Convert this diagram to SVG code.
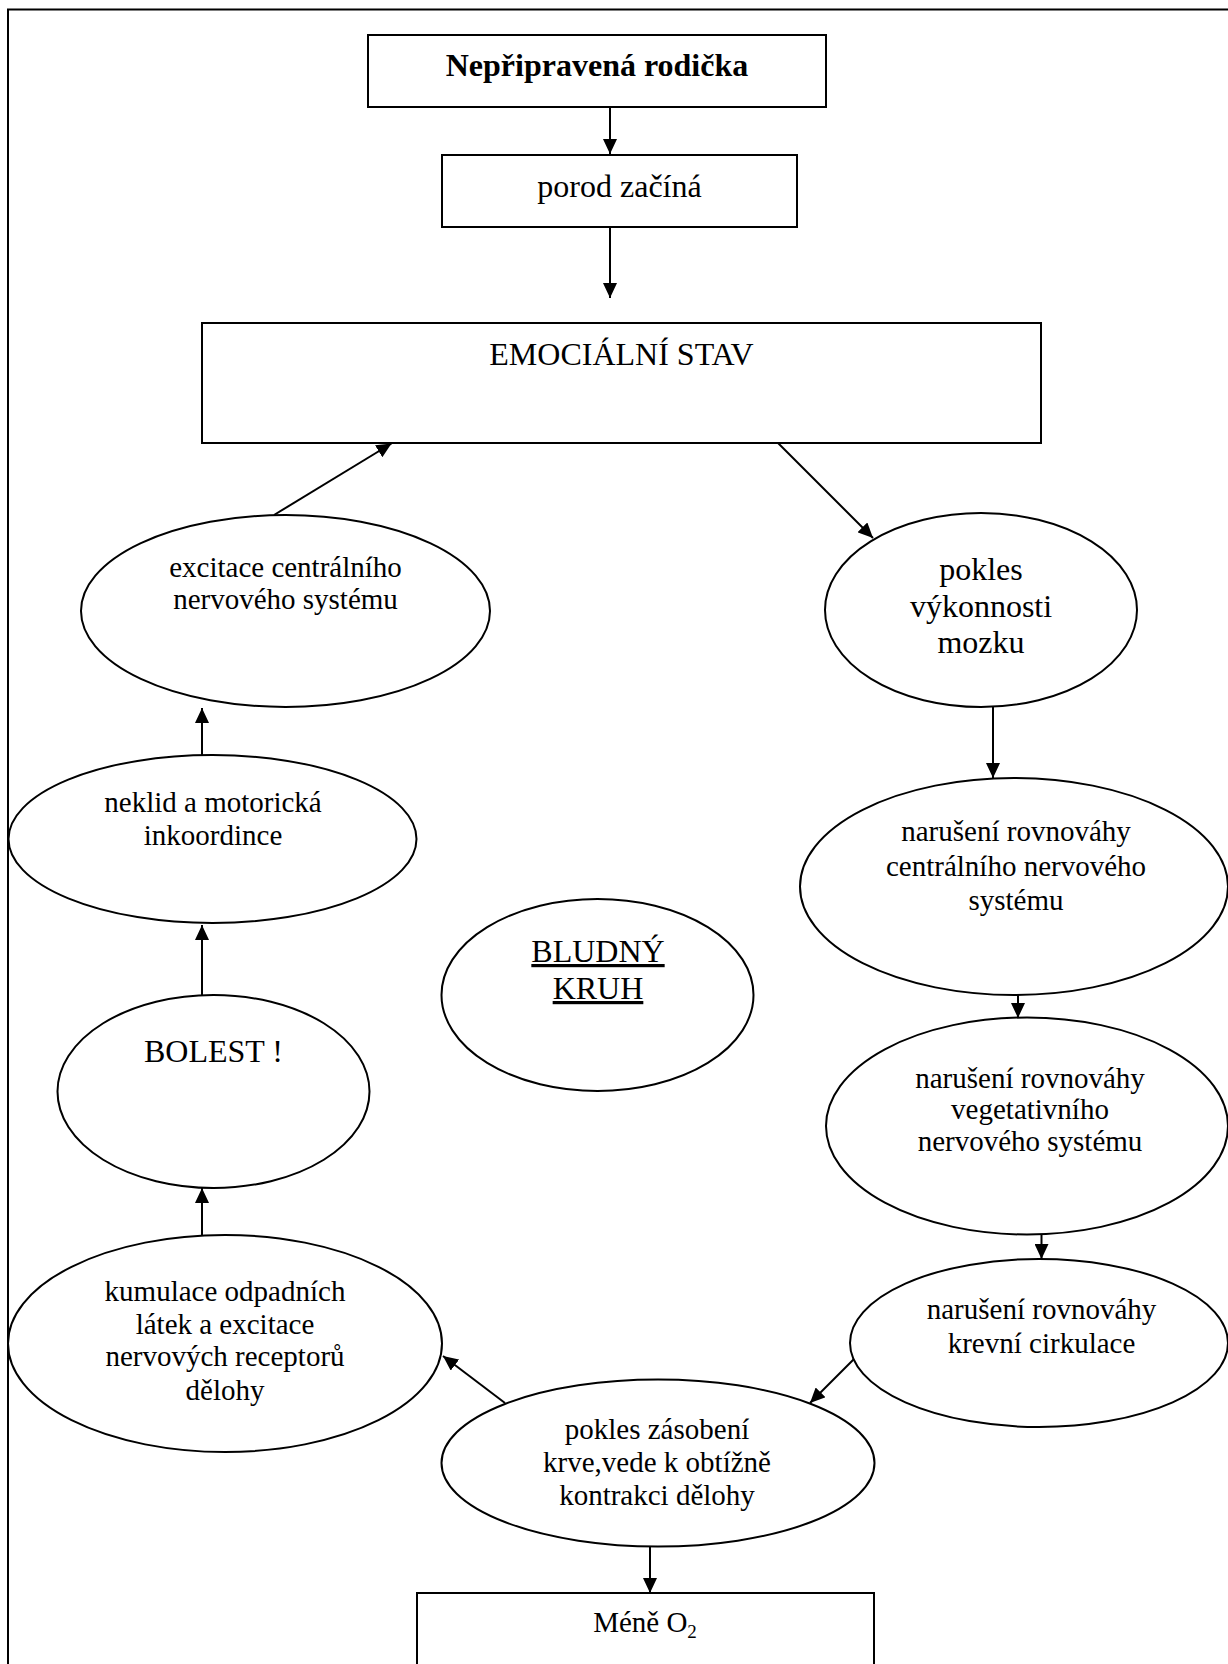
<svg xmlns="http://www.w3.org/2000/svg" width="1228" height="1664" viewBox="0 0 1228 1664">
<style>
.n{fill:#fff;stroke:#000;stroke-width:2}
.t{font-family:"Liberation Serif","Times New Roman",serif;font-size:29px;fill:#000;text-anchor:middle}
.L{font-size:32px}
.b{font-weight:bold}
.c{stroke:#000;stroke-width:2;fill:none;marker-end:url(#ah)}
</style>
<defs>
<marker id="ah" markerWidth="16" markerHeight="14" refX="15" refY="7" orient="auto" markerUnits="userSpaceOnUse"><path d="M0,0 L15,7 L0,14 z" fill="#000"/></marker>
</defs>
<rect x="0" y="0" width="1228" height="1664" fill="#fff"/>
<rect x="8" y="9.5" width="1260" height="1700" fill="none" stroke="#000" stroke-width="2"/>
<g id="connectors">
<line class="c" x1="610" y1="107" x2="610" y2="154"/>
<line class="c" x1="610" y1="227" x2="610" y2="298"/>
<line class="c" x1="778" y1="443" x2="873" y2="538"/>
<line class="c" x1="274" y1="515" x2="391.5" y2="443.5"/>
<line class="c" x1="993" y1="707" x2="993" y2="778"/>
<line class="c" x1="202" y1="755" x2="202" y2="708"/>
<line class="c" x1="202" y1="995" x2="202" y2="925"/>
<line class="c" x1="202" y1="1235" x2="202" y2="1188"/>
<line class="c" x1="1018" y1="995" x2="1018" y2="1018"/>
<line class="c" x1="1041.5" y1="1235" x2="1041.5" y2="1259"/>
<line class="c" x1="858" y1="1355" x2="810" y2="1403"/>
<line class="c" x1="505" y1="1403" x2="443" y2="1356"/>
<line class="c" x1="650" y1="1547" x2="650" y2="1593"/>
</g>
<g id="n1"><rect class="n" x="368" y="35" width="458" height="72"/><text class="t L b" x="597" y="76">Nepřipravená rodička</text></g>
<g id="n2"><rect class="n" x="442" y="155" width="355" height="72"/><text class="t L" x="619.5" y="197">porod začíná</text></g>
<g id="n3"><rect class="n" x="202" y="323" width="839" height="120"/><text class="t L" x="621.5" y="365">EMOCIÁLNÍ STAV</text></g>
<g id="n4"><ellipse class="n" cx="285.5" cy="611" rx="204.5" ry="96"/><text class="t" x="285.5" y="577">excitace centrálního</text><text class="t" x="285.5" y="609">nervového systému</text></g>
<g id="n5"><ellipse class="n" cx="981" cy="610" rx="156" ry="97"/><text class="t L" x="981" y="580">pokles</text><text class="t L" x="981" y="617">výkonnosti</text><text class="t L" x="981" y="653">mozku</text></g>
<g id="n6"><ellipse class="n" cx="212.5" cy="839" rx="204" ry="84"/><text class="t" x="213" y="812">neklid a motorická</text><text class="t" x="213" y="845">inkoordince</text></g>
<g id="n7"><ellipse class="n" cx="1014" cy="886.5" rx="214" ry="108.5"/><text class="t" x="1016" y="841">narušení rovnováhy</text><text class="t" x="1016" y="876">centrálního nervového</text><text class="t" x="1016" y="910">systému</text></g>
<g id="n8"><ellipse class="n" cx="597.5" cy="995" rx="156" ry="96"/><text class="t L" x="598" y="962" text-decoration="underline">BLUDNÝ</text><text class="t L" x="598" y="999" text-decoration="underline">KRUH</text></g>
<g id="n9"><ellipse class="n" cx="213.5" cy="1091.5" rx="156" ry="96.5"/><text class="t L" x="213.5" y="1062">BOLEST !</text></g>
<g id="n10"><ellipse class="n" cx="1027" cy="1126" rx="201" ry="108.5"/><text class="t" x="1030" y="1088">narušení rovnováhy</text><text class="t" x="1030" y="1119">vegetativního</text><text class="t" x="1030" y="1151">nervového systému</text></g>
<g id="n11"><ellipse class="n" cx="1039" cy="1343" rx="189" ry="84"/><text class="t" x="1041.5" y="1319">narušení rovnováhy</text><text class="t" x="1041.5" y="1353">krevní cirkulace</text></g>
<g id="n12"><ellipse class="n" cx="225" cy="1343.5" rx="217" ry="108.5"/><text class="t" x="225" y="1301">kumulace odpadních</text><text class="t" x="225" y="1334">látek a excitace</text><text class="t" x="225" y="1366">nervových receptorů</text><text class="t" x="225" y="1400">dělohy</text></g>
<g id="n13"><ellipse class="n" cx="658" cy="1463" rx="216.5" ry="83.5"/><text class="t" x="657" y="1439">pokles zásobení</text><text class="t" x="657" y="1472">krve,vede k obtížně</text><text class="t" x="657" y="1505">kontrakci dělohy</text></g>
<g id="n14"><rect class="n" x="417" y="1593" width="457" height="100"/><text class="t" x="645" y="1632">Méně O<tspan font-size="19" dy="6">2</tspan></text></g>
</svg>
